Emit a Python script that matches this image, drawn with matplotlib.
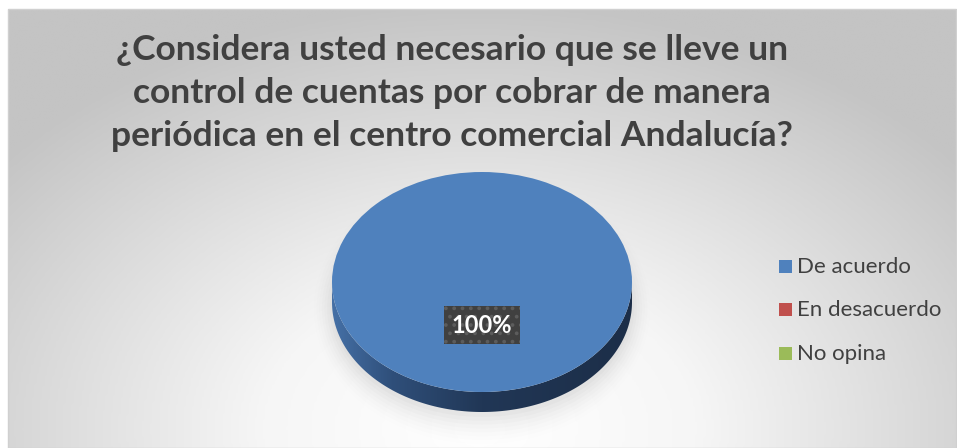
import numpy as np
import matplotlib
matplotlib.use("Agg")
import matplotlib.pyplot as plt
from matplotlib.colors import LinearSegmentedColormap
from matplotlib.patches import Polygon, Rectangle, Ellipse

# ---- data ----
title = "¿Considera usted necesario que se lleve un\ncontrol de cuentas por cobrar de manera\nperiódica en el centro comercial Andalucía?"
categories = ["De acuerdo", "En desacuerdo", "No opina"]
values = [100, 0, 0]
colors = ["#4f81bd", "#c0504d", "#9bbb59"]

W, H = 957, 448
fig = plt.figure(figsize=(W / 100, H / 100), dpi=100)
fig.patch.set_facecolor("white")

# ---- background (radial gradient inside frame) ----
bg = fig.add_axes([0, 0, 1, 1])
bg.set_xlim(0, W)
bg.set_ylim(H, 0)
bg.axis("off")
fx0, fy0 = 8, 9
xx, yy = np.meshgrid(np.linspace(fx0, W, 400), np.linspace(fy0, H, 200))
r = np.sqrt(((xx - 480) / 620) ** 2 + ((yy - 430) / 430) ** 2)
r = np.clip(r, 0, 1)
cm_bg = LinearSegmentedColormap.from_list("bg", [(0, "#ffffff"), (0.35, "#f6f6f6"), (1, "#c4c4c4")])
bg.imshow(r, cmap=cm_bg, vmin=0, vmax=1, extent=[fx0, W, H, fy0], aspect="auto", interpolation="bilinear")
bg.add_patch(Rectangle((fx0, fy0), W - fx0 - 1, H - fy0, fill=False, ec="#d0d0d0", lw=1))

# ---- title ----
fig.text(452 / W, 1 - 93 / H, title, ha="center", va="center", fontsize=25.5,
         fontweight="bold", family="Lato", color="#404040", linespacing=1.44)

# ---- pie axes: unit = 150px horizontally, 110px vertically ----
L, R_, T, B = 317, 647, 160, 430
cx, cy = 482, 282
ax = fig.add_axes([L / W, 1 - B / H, (R_ - L) / W, (B - T) / H])
ax.patch.set_alpha(0)
ux, uy = 150.0, 110.0
depth = 20 / uy

# soft shadow (mostly below the pie)
for i, a in enumerate(np.linspace(0.035, 0.008, 8)):
    e = Ellipse((0, -depth - 0.06), 1.96 + 0.035 * (i + 1), 1.9 + 0.07 * (i + 1),
                fc="#808080", ec="none", alpha=a, zorder=0)
    e.set_clip_on(False)
    ax.add_patch(e)

# side of the cylinder with gradient
t = np.linspace(np.pi, 2 * np.pi, 200)
side = np.concatenate([np.c_[np.cos(t), np.sin(t)], np.c_[np.cos(t[::-1]), np.sin(t[::-1]) - depth]])
side_patch = Polygon(side, closed=True, fc="none", ec="none", zorder=1)
ax.add_patch(side_patch)
cm_side = LinearSegmentedColormap.from_list("side", [(0, "#4570a6"), (0.2, "#2f4f7a"), (0.5, "#213756"), (1, "#1c2e48")])
grad = np.linspace(0, 1, 256)[None, :]
im = ax.imshow(grad, cmap=cm_side, extent=[-1, 1, -1 - depth, 0], aspect="auto", zorder=1)
im.set_clip_path(side_patch)

# top face
wedges, _ = ax.pie(values, colors=colors, startangle=90, counterclock=False,
                   wedgeprops=dict(edgecolor="none"))
for w in wedges:
    w.set_zorder(2)
ax.set_aspect("auto")
ax.set_xlim(-(cx - L) / ux, (R_ - cx) / ux)
ax.set_ylim(-(B - cy) / uy, (cy - T) / uy)
ax.axis("off")

# data label
pct = values[0] / sum(values) * 100
plt.rcParams["hatch.color"] = "#5c5c5c"
plt.rcParams["hatch.linewidth"] = 1.5
ax.text(0, -(325 - cy) / uy, f"{pct:.0f}%", ha="center", va="center", fontsize=17,
        fontweight="bold", family="Lato", color="white", zorder=5,
        bbox=dict(boxstyle="square,pad=0.32", fc="#404040", ec="#5c5c5c", lw=0, hatch=".."))

# ---- legend ----
leg_y = [267, 310, 354]
for c, lab, y in zip(colors, categories, leg_y):
    bg.add_patch(Rectangle((779, y - 6.5), 13, 13, fc=c, ec="none"))
    bg.text(797, y, lab, ha="left", va="center", fontsize=16, family="Lato", color="#404040")

fig.savefig("out.png", dpi=100)
